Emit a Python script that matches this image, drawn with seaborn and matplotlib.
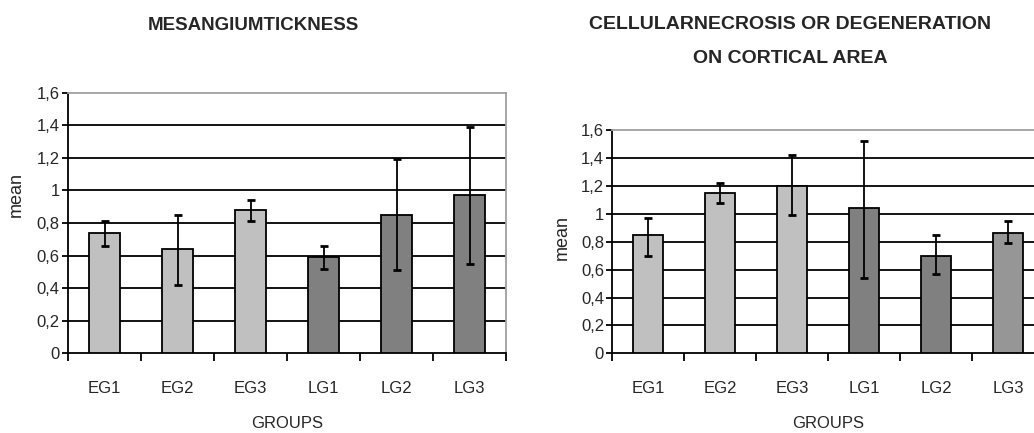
import matplotlib
matplotlib.use("Agg")
import matplotlib.pyplot as plt
from matplotlib import font_manager
import seaborn as sns
import pandas as pd

# ---- data ----
groups = ["EG1", "EG2", "EG3", "LG1", "LG2", "LG3"]

meso_mean = [0.74, 0.64, 0.88, 0.59, 0.85, 0.97]
meso_low = [0.66, 0.42, 0.81, 0.52, 0.51, 0.55]
meso_high = [0.81, 0.85, 0.94, 0.66, 1.19, 1.39]

necro_mean = [0.85, 1.15, 1.20, 1.04, 0.70, 0.86]
necro_low = [0.70, 1.08, 0.99, 0.54, 0.57, 0.79]
necro_high = [0.97, 1.22, 1.42, 1.52, 0.85, 0.95]

yticks = [0, 0.2, 0.4, 0.6, 0.8, 1.0, 1.2, 1.4, 1.6]
ytick_labels = ["0", "0,2", "0,4", "0,6", "0,8", "1", "1,2", "1,4", "1,6"]

title_left = "MESANGIUMTICKNESS"
title_right = "CELLULARNECROSIS OR DEGENERATION\nON CORTICAL AREA"

colors_left = ["#C0C0C0", "#C0C0C0", "#C0C0C0", "#808080", "#808080", "#808080"]
colors_right = ["#C0C0C0", "#C0C0C0", "#C0C0C0", "#808080", "#808080", "#969696"]

sns.set_theme(style="white")
names = {f.name for f in font_manager.fontManager.ttflist}
fam = ["Liberation Sans Narrow"] if "Liberation Sans Narrow" in names else []
fam += ["Liberation Sans", "DejaVu Sans"]
plt.rcParams["font.family"] = fam

fig = plt.figure(figsize=(10.34, 4.33), dpi=100)
ax1 = fig.add_axes([0.0658, 0.184, 0.4236, 0.602])
ax2 = fig.add_axes([0.5922, 0.184, 0.4175, 0.5157])


def draw(ax, mean, low, high, colors):
    df = pd.DataFrame({"group": groups, "mean": mean})
    sns.barplot(data=df, x="group", y="mean", hue="group", palette=colors,
                legend=False, width=0.42, edgecolor="black", linewidth=1.3,
                ax=ax, zorder=3)
    lo = [m - l for m, l in zip(mean, low)]
    hi = [h - m for m, h in zip(mean, high)]
    ax.errorbar(range(len(groups)), mean, yerr=[lo, hi], fmt="none",
                ecolor="black", elinewidth=1.3, capsize=3, capthick=2, zorder=4)
    ax.set_xlim(-0.5, len(groups) - 0.5)
    ax.set_ylim(0, 1.6)
    ax.set_yticks(yticks)
    ax.set_yticklabels(ytick_labels, fontsize=12)
    for y in yticks[1:-1]:
        ax.axhline(y, color="black", linewidth=1.3, zorder=1)
    ax.set_xticks(range(len(groups)))
    ax.set_xticklabels(groups, fontsize=12)
    ax.set_xticks([i - 0.5 for i in range(len(groups) + 1)], minor=True)
    ax.tick_params(axis="x", which="major", length=0, pad=20)
    ax.tick_params(axis="x", which="minor", length=6, width=1.3,
                   color="black", direction="out", bottom=True)
    ax.tick_params(axis="y", length=4, width=1.3, color="black",
                   direction="out", left=True, pad=2)
    for s in ["left", "bottom"]:
        ax.spines[s].set_color("black")
        ax.spines[s].set_linewidth(1.3)
    for s in ["top", "right"]:
        ax.spines[s].set_color("#A0A0A0")
        ax.spines[s].set_linewidth(1.3)
    ax.set_xlabel("GROUPS", fontsize=12, labelpad=14)
    ax.set_ylabel("mean", fontsize=13)
    ax.set_facecolor("white")


draw(ax1, meso_mean, meso_low, meso_high, colors_left)
draw(ax2, necro_mean, necro_low, necro_high, colors_right)
ax1.yaxis.set_label_coords(-0.098, 0.61)
ax2.yaxis.set_label_coords(-0.097, 0.52)

fig.text(253 / 1034, 1 - 25 / 433, title_left, ha="center", va="center",
         fontsize=13.5, fontweight="bold")
fig.text(790 / 1034, 1 - 41.5 / 433, title_right, ha="center", va="center",
         fontsize=14, fontweight="bold", linespacing=2.25)

fig.savefig("out.png", dpi=100)
